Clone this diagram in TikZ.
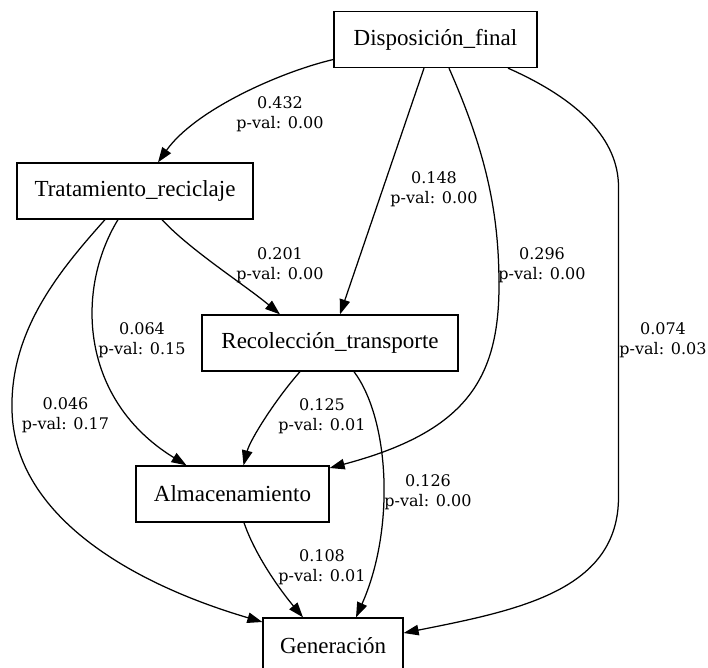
\documentclass[tikz,border=0pt]{standalone}
\usepackage{fontspec}
\setmainfont{Liberation Serif}
\newfontfamily\lblfont{DejaVu Serif}
\usetikzlibrary{arrows.meta,calc}

\tikzset{
  var/.style={draw=black, line width=1.3pt, rectangle, inner sep=0pt,
    minimum height=56pt, font=\fontsize{23}{27}\selectfont},
  path/.style={draw=black, line width=1.25pt,
    -{Triangle[length=15pt,width=10.5pt]}},
  coef/.style={align=center, inner sep=0pt,
    font=\lblfont\fontsize{16}{20}\selectfont}
}

\begin{document}
\begin{tikzpicture}[x=1pt, y=-1pt]
  \useasboundingbox (0,0) rectangle (708,667);
  \clip (0,0) rectangle (708,667);

  % variables
  \node[var, minimum width=203pt] (disp)  at (435.5,39.5) {Disposición\_final};
  \node[var, minimum width=236pt] (trat)  at (135,191)    {Tratamiento\_reciclaje};
  \node[var, minimum width=256pt] (recol) at (330,343)    {Recolección\_transporte};
  \node[var, minimum width=193pt] (alm)   at (232.5,494)  {Almacenamiento};
  \node[var, minimum width=140pt] (gen)   at (333,646)    {Generación};

  % paths leaving Disposición_final
  \draw[path] ($(disp.west)+(0,20)$) .. controls (280,72) and (195,110) .. ($(trat.north)+(23,0)$);
  \draw[path] ($(disp.south)+(-11.5,0)$) -- ($(recol.north)+(10,0)$);
  \draw[path] ($(disp.south)+(13.5,0)$) .. controls (485,150) and (499,210) .. (499,285)
              .. controls (499,380) and (465,432) .. ($(alm.east)+(0,-26)$);
  \draw[path] ($(disp.south)+(72.5,0)$) .. controls (580,100) and (618.5,140) .. (618.5,187)
              -- (618.5,497) .. controls (618.5,590) and (520,610) .. ($(gen.east)+(0,-13)$);

  % paths leaving Tratamiento_reciclaje
  \draw[path] ($(trat.south)+(27,0)$) .. controls (190,250) and (245,285) .. ($(recol.north)+(-50,0)$);
  \draw[path] ($(trat.south)+(-17,0)$) .. controls (75,290) and (80,400) .. ($(alm.north)+(-46,0)$);
  \draw[path] ($(trat.south)+(-30,0)$) .. controls (60,270) and (10,330) .. (12,410)
              .. controls (14,510) and (120,580) .. ($(gen.west)+(0,-24)$);

  % paths leaving Recolección_transporte
  \draw[path] ($(recol.south)+(-30,0)$) .. controls (275,400) and (250,440) .. ($(alm.north)+(11,0)$);
  \draw[path] ($(recol.south)+(24,0)$) .. controls (390,420) and (395,530) .. ($(gen.north)+(23,0)$);

  % path leaving Almacenamiento
  \draw[path] ($(alm.south)+(11.5,0)$) .. controls (255,555) and (280,590) .. ($(gen.north)+(-30,0)$);

  % coefficients
  \node[coef] (c1)  at (280,114)   {0.432\\p-val: 0.00};
  \node[coef] (c2)  at (434,189.5) {0.148\\p-val: 0.00};
  \node[coef] (c3)  at (280,265.5) {0.201\\p-val: 0.00};
  \node[coef] (c4)  at (542,265.5) {0.296\\p-val: 0.00};
  \node[coef] (c5)  at (142,340.5) {0.064\\p-val: 0.15};
  \node[coef] (c6)  at (663,340.5) {0.074\\p-val: 0.03};
  \node[coef] (c7)  at (65.5,415.5) {0.046\\p-val: 0.17};
  \node[coef] (c8)  at (322,416.5) {0.125\\p-val: 0.01};
  \node[coef] (c9)  at (428,492)   {0.126\\p-val: 0.00};
  \node[coef] (c10) at (322,567)   {0.108\\p-val: 0.01};
\end{tikzpicture}
\end{document}
